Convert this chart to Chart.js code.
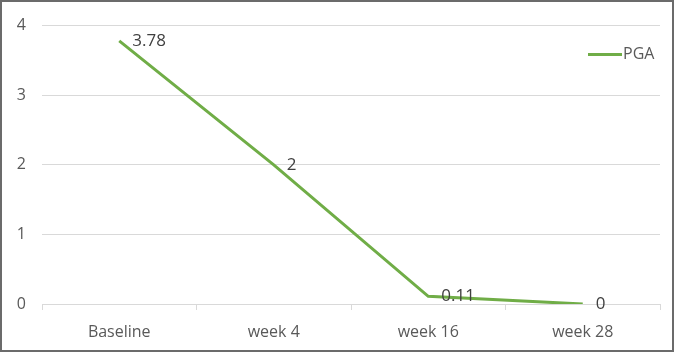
<!DOCTYPE html>
<html>
<head>
<meta charset="utf-8">
<script src="https://cdn.jsdelivr.net/npm/chart.js@4/dist/chart.umd.min.js"></script>
<style>
  html, body { margin: 0; padding: 0; background: #ffffff; }
  #wrap { width: 674px; height: 352px; position: relative; }
</style>
</head>
<body>
<div id="wrap"><canvas id="pga-chart" width="674" height="352"></canvas></div>
<script>
// Données du graphique
const categories = ['Baseline', 'week 4', 'week 16', 'week 28'];
const pgaValues = [3.78, 2, 0.11, 0];
const yTicks = [0, 1, 2, 3, 4];

const textColor = '#595959';
const lineColor = '#70AD47';
const fontFamily = "'Open Sans', 'Noto Sans', sans-serif";

// Cadre gris autour de l'image
const framePlugin = {
    id: 'frame',
    afterDraw(chart) {
        const ctx = chart.ctx;
        ctx.save();
        ctx.strokeStyle = '#6b6b6b';
        ctx.lineWidth = 2;
        ctx.strokeRect(1, 1, chart.width - 2, chart.height - 2);
        ctx.restore();
    }
};

// Étiquettes de valeurs à droite des points
const valueLabelPlugin = {
    id: 'valueLabels',
    afterDatasetsDraw(chart) {
        const ctx = chart.ctx;
        const meta = chart.getDatasetMeta(0);
        ctx.save();
        ctx.font = '17px ' + fontFamily;
        ctx.fillStyle = '#404040';
        ctx.textAlign = 'left';
        ctx.textBaseline = 'middle';
        meta.data.forEach((pt, i) => {
            ctx.fillText(String(chart.data.datasets[0].data[i]), pt.x + 13, pt.y);
        });
        ctx.restore();
    }
};

// Légende dans la zone du graphique, en haut à droite
const legendPlugin = {
    id: 'innerLegend',
    afterDraw(chart) {
        const ctx = chart.ctx;
        const ds = chart.data.datasets[0];
        const x = chart.chartArea.right - 72;
        const y = chart.chartArea.top + 29;
        ctx.save();
        ctx.strokeStyle = ds.borderColor;
        ctx.lineWidth = 3;
        ctx.beginPath();
        ctx.moveTo(x, y);
        ctx.lineTo(x + 34, y);
        ctx.stroke();
        ctx.font = '16px ' + fontFamily;
        ctx.fillStyle = textColor;
        ctx.textAlign = 'left';
        ctx.textBaseline = 'middle';
        ctx.fillText(ds.label, x + 35, y);
        ctx.restore();
    }
};

const ctx = document.getElementById('pga-chart').getContext('2d');
new Chart(ctx, {
    type: 'line',
    data: {
        labels: categories,
        datasets: [{
            label: 'PGA',
            data: pgaValues,
            borderColor: lineColor,
            backgroundColor: lineColor,
            borderWidth: 3,
            pointRadius: 0,
            tension: 0,
            fill: false
        }]
    },
    options: {
        responsive: false,
        animation: false,
        layout: {
            padding: { left: 0, right: 14, top: 20, bottom: 0 }
        },
        plugins: {
            legend: { display: false },
            tooltip: { enabled: false }
        },
        scales: {
            x: {
                offset: true,
                grid: {
                    offset: true,
                    drawOnChartArea: false,
                    drawTicks: true,
                    tickLength: 6,
                    color: '#d9d9d9'
                },
                border: { display: true, color: '#d9d9d9', width: 1 },
                ticks: {
                    color: textColor,
                    padding: 13,
                    maxRotation: 0,
                    font: { family: fontFamily, size: 16 }
                },
                afterFit(scale) { scale.height = 48; }
            },
            y: {
                min: 0,
                max: 4,
                afterBuildTicks(scale) {
                    scale.ticks = yTicks.map(v => ({ value: v }));
                },
                grid: {
                    color: '#d9d9d9',
                    drawTicks: false
                },
                border: { display: false },
                ticks: {
                    color: textColor,
                    padding: 16,
                    font: { family: fontFamily, size: 16 }
                },
                afterFit(scale) { scale.width = 42; }
            }
        }
    },
    plugins: [framePlugin, valueLabelPlugin, legendPlugin]
});
</script>
</body>
</html>
